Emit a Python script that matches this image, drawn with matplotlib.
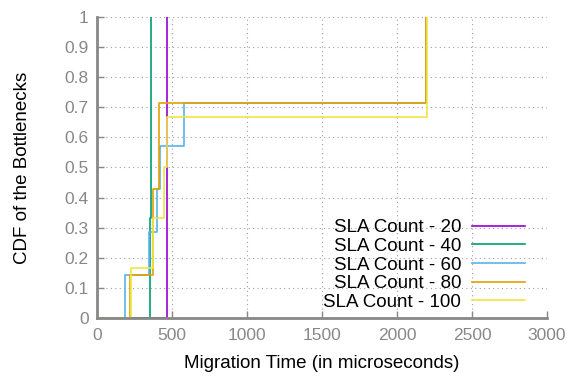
import matplotlib
matplotlib.use("Agg")
import matplotlib.pyplot as plt
import numpy as np

plt.rcParams['font.family'] = ['Liberation Sans', 'DejaVu Sans']

# migration times (microseconds) of the bottlenecks, per SLA count
labels = ["SLA Count - 20", "SLA Count - 40", "SLA Count - 60", "SLA Count - 80", "SLA Count - 100"]
sla20 = [467]
sla40 = [351, 362, 362]
sla60 = [184, 344, 400, 422, 582, 2190, 2190]
sla80 = [222, 371, 371, 411, 411, 2190, 2190]
sla100 = [227, 373, 444, 467, 2200, 2200]
colors = ["#9400d3", "#009e73", "#56b4e9", "#e69f00", "#f0e442"]

xticks = [0, 500, 1000, 1500, 2000, 2500, 3000]
yticks = [0, 0.1, 0.2, 0.3, 0.4, 0.5, 0.6, 0.7, 0.8, 0.9, 1]

fig = plt.figure(figsize=(5.71, 3.78), dpi=100)
ax = fig.add_axes([0.170, 0.159, 0.788, 0.796])

for data, lab, c in zip([sla20, sla40, sla60, sla80, sla100], labels, colors):
    vals = np.sort(np.array(data, dtype=float))
    x = np.concatenate([[0], vals])
    y = np.concatenate([[0], np.arange(1, len(vals) + 1) / len(vals)])
    ax.step(x, y, where='post', color=c, lw=1.2, label=lab)

ax.set_xlim(0, 3000)
ax.set_ylim(0, 1)
ax.set_xticks(xticks)
ax.set_yticks(yticks)
ax.set_yticklabels([f"{t:g}" for t in yticks])
ax.grid(True, color="#a0a0a0", linestyle=(0, (1, 3)), lw=0.8)

for s in ["top", "right"]:
    ax.spines[s].set_visible(False)
for s in ["left", "bottom"]:
    ax.spines[s].set_color("#888888")
    ax.spines[s].set_linewidth(2)
ax.tick_params(direction='in', colors="#888888", labelcolor="#888888", labelsize=12.5, length=5, width=1)
ax.tick_params(axis='x', pad=7)
ax.tick_params(axis='y', pad=6)

ax.set_xlabel("Migration Time (in microseconds)", fontsize=13.5, labelpad=9)
ax.set_ylabel("CDF of the Bottlenecks", fontsize=13.5, labelpad=24)

ax.legend(loc='lower right', bbox_to_anchor=(0.98, -0.02), frameon=False, markerfirst=False,
          fontsize=13.5, handlelength=2.8, handletextpad=0.6, labelspacing=0.08, borderpad=0.2)

fig.savefig("out.png", dpi=100)
